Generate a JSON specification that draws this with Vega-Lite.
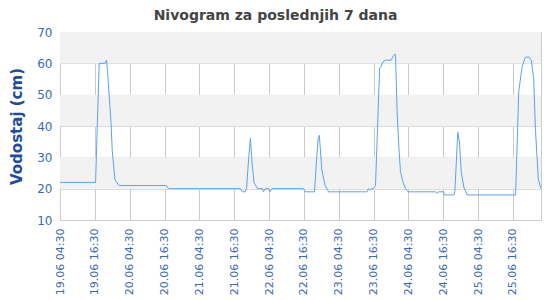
{
  "$schema": "https://vega.github.io/schema/vega-lite/v6.json",
  "width": 481,
  "height": 188,
  "autosize": {"type": "none"},
  "padding": {"left": 60, "top": 32, "right": 9, "bottom": 80},
  "config": {
    "font": "DejaVu Sans",
    "view": {"stroke": "#cccccc", "strokeWidth": 1},
    "axisY": {
      "labelOverlap": false,
      "labelFontSize": 12,
      "labelColor": "#3a6ab0",
      "labelPadding": 8,
      "ticks": false,
      "domainColor": "#cccccc",
      "grid": true,
      "gridColor": "#dcdcdc",
      "gridWidth": 1,
      "titleFontSize": 15,
      "titleFontWeight": "bold",
      "titleColor": "#1e4d9b",
      "titlePadding": 12
    }
  },
  "title": {
    "text": "Nivogram za poslednjih 7 dana",
    "fontSize": 14,
    "fontWeight": "bold",
    "color": "#444444",
    "anchor": "middle",
    "dx": -25,
    "offset": 3
  },
  "datasets": {
    "bands": [
      {"lo": 20, "hi": 30},
      {"lo": 40, "hi": 50},
      {"lo": 60, "hi": 70}
    ],
    "level": [
      {"t": "2024-06-19T04:30", "v": 22},
      {"t": "2024-06-19T16:45", "v": 22},
      {"t": "2024-06-19T18:00", "v": 60},
      {"t": "2024-06-19T20:00", "v": 60},
      {"t": "2024-06-19T20:30", "v": 61},
      {"t": "2024-06-19T20:50", "v": 58},
      {"t": "2024-06-19T22:05", "v": 41},
      {"t": "2024-06-19T22:30", "v": 32},
      {"t": "2024-06-19T23:25", "v": 23},
      {"t": "2024-06-20T00:00", "v": 22},
      {"t": "2024-06-20T00:50", "v": 21},
      {"t": "2024-06-20T17:10", "v": 21},
      {"t": "2024-06-20T17:55", "v": 20},
      {"t": "2024-06-21T18:40", "v": 20},
      {"t": "2024-06-21T19:15", "v": 19},
      {"t": "2024-06-21T20:15", "v": 19},
      {"t": "2024-06-21T20:45", "v": 20},
      {"t": "2024-06-21T21:30", "v": 30},
      {"t": "2024-06-21T22:05", "v": 36},
      {"t": "2024-06-21T22:40", "v": 28},
      {"t": "2024-06-21T23:20", "v": 22},
      {"t": "2024-06-22T00:30", "v": 20},
      {"t": "2024-06-22T02:10", "v": 20},
      {"t": "2024-06-22T02:35", "v": 19},
      {"t": "2024-06-22T03:10", "v": 20},
      {"t": "2024-06-22T04:30", "v": 20},
      {"t": "2024-06-22T04:50", "v": 19},
      {"t": "2024-06-22T05:35", "v": 20},
      {"t": "2024-06-22T16:20", "v": 20},
      {"t": "2024-06-22T16:55", "v": 19},
      {"t": "2024-06-22T20:10", "v": 19},
      {"t": "2024-06-22T20:55", "v": 30},
      {"t": "2024-06-22T21:25", "v": 36},
      {"t": "2024-06-22T21:50", "v": 37},
      {"t": "2024-06-22T22:40", "v": 26},
      {"t": "2024-06-22T23:20", "v": 23},
      {"t": "2024-06-22T23:50", "v": 21},
      {"t": "2024-06-23T01:00", "v": 19},
      {"t": "2024-06-23T14:15", "v": 19},
      {"t": "2024-06-23T14:45", "v": 20},
      {"t": "2024-06-23T15:15", "v": 19.5},
      {"t": "2024-06-23T15:45", "v": 20},
      {"t": "2024-06-23T16:25", "v": 20},
      {"t": "2024-06-23T17:10", "v": 21},
      {"t": "2024-06-23T18:35", "v": 58.5},
      {"t": "2024-06-23T19:05", "v": 59},
      {"t": "2024-06-23T19:45", "v": 60.5},
      {"t": "2024-06-23T20:35", "v": 61},
      {"t": "2024-06-23T22:30", "v": 61},
      {"t": "2024-06-23T23:25", "v": 62.5},
      {"t": "2024-06-23T23:55", "v": 63},
      {"t": "2024-06-24T00:05", "v": 62},
      {"t": "2024-06-24T00:35", "v": 45},
      {"t": "2024-06-24T01:10", "v": 34},
      {"t": "2024-06-24T01:45", "v": 25.5},
      {"t": "2024-06-24T02:40", "v": 22},
      {"t": "2024-06-24T03:30", "v": 20},
      {"t": "2024-06-24T04:25", "v": 19},
      {"t": "2024-06-24T13:50", "v": 19},
      {"t": "2024-06-24T14:25", "v": 18.5},
      {"t": "2024-06-24T14:50", "v": 19},
      {"t": "2024-06-24T16:35", "v": 19},
      {"t": "2024-06-24T16:55", "v": 18},
      {"t": "2024-06-24T20:10", "v": 18},
      {"t": "2024-06-24T20:30", "v": 19},
      {"t": "2024-06-24T21:30", "v": 38},
      {"t": "2024-06-24T22:05", "v": 35},
      {"t": "2024-06-24T22:40", "v": 25.5},
      {"t": "2024-06-24T23:35", "v": 20.5},
      {"t": "2024-06-25T00:45", "v": 18},
      {"t": "2024-06-25T17:25", "v": 18},
      {"t": "2024-06-25T18:30", "v": 51},
      {"t": "2024-06-25T19:40", "v": 59},
      {"t": "2024-06-25T20:50", "v": 62},
      {"t": "2024-06-25T22:00", "v": 62},
      {"t": "2024-06-25T22:50", "v": 61},
      {"t": "2024-06-25T23:40", "v": 55},
      {"t": "2024-06-26T00:15", "v": 39},
      {"t": "2024-06-26T01:15", "v": 23},
      {"t": "2024-06-26T02:10", "v": 20}
    ]
  },
  "layer": [
    {
      "data": {"name": "bands"},
      "mark": {"type": "rect", "color": "#f2f2f2"},
      "encoding": {
        "y": {
          "field": "lo",
          "type": "quantitative",
          "scale": {"domain": [10, 70], "nice": false},
          "axis": {"title": "Vodostaj (cm)", "values": [10, 20, 30, 40, 50, 60, 70]}
        },
        "y2": {"field": "hi"}
      }
    },
    {
      "data": {"name": "level"},
      "mark": {"type": "line", "color": "#5aa2ee", "strokeWidth": 1, "interpolate": "linear"},
      "encoding": {
        "x": {
          "field": "t",
          "type": "temporal",
          "scale": {
            "domain": [
              {"year": 2024, "month": 6, "date": 19, "hours": 4, "minutes": 30},
              {"year": 2024, "month": 6, "date": 26, "hours": 2, "minutes": 10}
            ],
            "nice": false
          },
          "axis": {
            "title": null,
            "values": [
              {"year": 2024, "month": 6, "date": 19, "hours": 4, "minutes": 30},
              {"year": 2024, "month": 6, "date": 19, "hours": 16, "minutes": 30},
              {"year": 2024, "month": 6, "date": 20, "hours": 4, "minutes": 30},
              {"year": 2024, "month": 6, "date": 20, "hours": 16, "minutes": 30},
              {"year": 2024, "month": 6, "date": 21, "hours": 4, "minutes": 30},
              {"year": 2024, "month": 6, "date": 21, "hours": 16, "minutes": 30},
              {"year": 2024, "month": 6, "date": 22, "hours": 4, "minutes": 30},
              {"year": 2024, "month": 6, "date": 22, "hours": 16, "minutes": 30},
              {"year": 2024, "month": 6, "date": 23, "hours": 4, "minutes": 30},
              {"year": 2024, "month": 6, "date": 23, "hours": 16, "minutes": 30},
              {"year": 2024, "month": 6, "date": 24, "hours": 4, "minutes": 30},
              {"year": 2024, "month": 6, "date": 24, "hours": 16, "minutes": 30},
              {"year": 2024, "month": 6, "date": 25, "hours": 4, "minutes": 30},
              {"year": 2024, "month": 6, "date": 25, "hours": 16, "minutes": 30}
            ],
            "format": "%d.%m %H:%M",
            "labelAngle": -90,
            "labelAlign": "right",
            "labelBaseline": "middle",
            "labelFontSize": 11,
            "labelColor": "#3a6ab0",
            "labelPadding": 8,
            "ticks": false,
            "domainColor": "#cccccc",
            "grid": true,
            "gridColor": "#c8c8c8",
            "gridWidth": 1,
            "labelOverlap": false,
            "labelFlush": false
          }
        },
        "y": {
          "field": "v",
          "type": "quantitative",
          "scale": {"domain": [10, 70], "nice": false},
          "axis": {"title": "Vodostaj (cm)", "values": [10, 20, 30, 40, 50, 60, 70]}
        }
      }
    }
  ]
}
